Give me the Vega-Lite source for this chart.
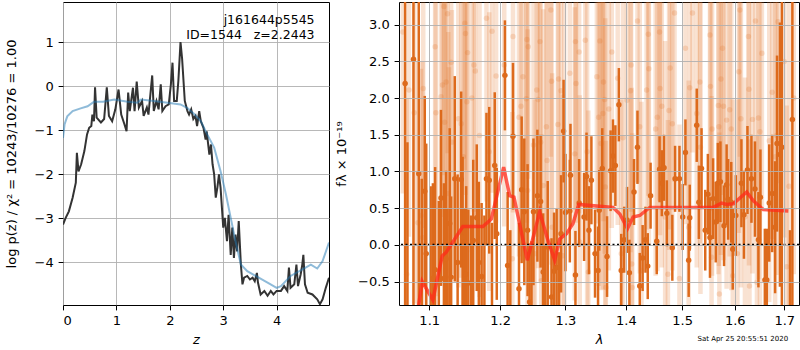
{
  "$schema": "https://vega.github.io/schema/vega-lite/v6.json",
  "padding": {"left": 4, "top": 1, "right": 0, "bottom": 0},
  "bounds": "flush",
  "spacing": 70,
  "config": {
    "font": "DejaVu Sans",
    "view": {"stroke": "black", "strokeWidth": 1},
    "axis": {
      "labelFontSize": 13, "titleFontSize": 13, "labelColor": "black", "titleColor": "black",
      "tickColor": "black", "tickSize": 4.9, "labelPadding": 4.9, "domain": false,
      "gridColor": "#b0b0b0", "gridWidth": 0.9, "titleFontWeight": "normal"
    }
  },
  "datasets": {
    "pz": [
      {"z":0,"p":-3.14},{"z":0.05,"p":-2.99},{"z":0.11,"p":-2.84},{"z":0.18,"p":-2.53},{"z":0.24,"p":-2.19},{"z":0.26,"p":-1.51},{"z":0.29,"p":-1.93},{"z":0.34,"p":-1.77},{"z":0.40,"p":-1.47},{"z":0.45,"p":-1.09},{"z":0.49,"p":-0.94},{"z":0.53,"p":-0.90},{"z":0.55,"p":-0.64},{"z":0.58,"p":-0.79},{"z":0.60,"p":-0.02},{"z":0.63,"p":-0.71},{"z":0.71,"p":-0.82},{"z":0.77,"p":-0.74},{"z":0.82,"p":-0.02},{"z":0.86,"p":-0.67},{"z":0.92,"p":-0.79},{"z":0.98,"p":-0.52},{"z":1.04,"p":-0.07},{"z":1.09,"p":-0.64},{"z":1.15,"p":-0.86},{"z":1.19,"p":-1.02},{"z":1.22,"p":-0.14},{"z":1.25,"p":-0.56},{"z":1.31,"p":-0.03},{"z":1.34,"p":-0.56},{"z":1.38,"p":0.11},{"z":1.42,"p":-0.48},{"z":1.48,"p":-0.33},{"z":1.51,"p":-0.67},{"z":1.57,"p":-0.48},{"z":1.60,"p":-0.64},{"z":1.67,"p":0.25},{"z":1.70,"p":-0.56},{"z":1.75,"p":-0.33},{"z":1.79,"p":-0.52},{"z":1.83,"p":0.05},{"z":1.86,"p":-0.56},{"z":1.92,"p":-0.45},{"z":1.98,"p":-0.41},{"z":2.02,"p":0.05},{"z":2.05,"p":0.54},{"z":2.08,"p":-0.33},{"z":2.13,"p":-0.33},{"z":2.16,"p":0.13},{"z":2.20,"p":1.01},{"z":2.23,"p":0.63},{"z":2.28,"p":-0.33},{"z":2.33,"p":-0.56},{"z":2.36,"p":-0.64},{"z":2.40,"p":-0.52},{"z":2.44,"p":-0.74},{"z":2.48,"p":-0.67},{"z":2.51,"p":-0.90},{"z":2.55,"p":-0.56},{"z":2.58,"p":-0.79},{"z":2.63,"p":-0.94},{"z":2.67,"p":-1.21},{"z":2.69,"p":-1.02},{"z":2.74,"p":-1.55},{"z":2.77,"p":-1.32},{"z":2.80,"p":-1.77},{"z":2.83,"p":-2.00},{"z":2.86,"p":-2.53},{"z":2.89,"p":-2.30},{"z":2.92,"p":-2.00},{"z":2.95,"p":-2.30},{"z":2.98,"p":-2.84},{"z":3.00,"p":-3.21},{"z":3.03,"p":-2.99},{"z":3.07,"p":-3.52},{"z":3.10,"p":-2.92},{"z":3.12,"p":-3.37},{"z":3.14,"p":-3.83},{"z":3.17,"p":-3.21},{"z":3.20,"p":-3.90},{"z":3.23,"p":-3.37},{"z":3.26,"p":-3.75},{"z":3.29,"p":-3.06},{"z":3.33,"p":-4.05},{"z":3.36,"p":-4.50},{"z":3.39,"p":-4.35},{"z":3.45,"p":-4.31},{"z":3.50,"p":-4.39},{"z":3.55,"p":-4.35},{"z":3.59,"p":-4.43},{"z":3.63,"p":-4.24},{"z":3.65,"p":-4.46},{"z":3.70,"p":-4.73},{"z":3.77,"p":-4.65},{"z":3.83,"p":-4.76},{"z":3.89,"p":-4.65},{"z":3.94,"p":-4.73},{"z":4.00,"p":-4.65},{"z":4.08,"p":-4.65},{"z":4.14,"p":-4.54},{"z":4.20,"p":-4.65},{"z":4.23,"p":-4.12},{"z":4.26,"p":-4.58},{"z":4.33,"p":-4.50},{"z":4.37,"p":-4.05},{"z":4.40,"p":-4.54},{"z":4.45,"p":-4.27},{"z":4.48,"p":-4.05},{"z":4.50,"p":-3.83},{"z":4.53,"p":-4.50},{"z":4.58,"p":-4.69},{"z":4.67,"p":-4.73},{"z":4.76,"p":-4.84},{"z":4.81,"p":-4.95},{"z":4.86,"p":-4.84},{"z":4.92,"p":-4.58},{"z":4.98,"p":-4.35}
    ],
    "pzs": [
      {"z":0,"p":-1.17},{"z":0.03,"p":-0.86},{"z":0.08,"p":-0.68},{"z":0.18,"p":-0.56},{"z":0.33,"p":-0.50},{"z":0.46,"p":-0.45},{"z":0.58,"p":-0.35},{"z":0.75,"p":-0.35},{"z":0.96,"p":-0.30},{"z":1.21,"p":-0.35},{"z":1.39,"p":-0.37},{"z":1.46,"p":-0.30},{"z":1.70,"p":-0.33},{"z":1.96,"p":-0.37},{"z":2.20,"p":-0.41},{"z":2.33,"p":-0.49},{"z":2.45,"p":-0.62},{"z":2.58,"p":-0.79},{"z":2.70,"p":-1.09},{"z":2.83,"p":-1.39},{"z":2.95,"p":-1.93},{"z":3.05,"p":-2.45},{"z":3.14,"p":-2.99},{"z":3.23,"p":-3.52},{"z":3.33,"p":-4.05},{"z":3.45,"p":-4.20},{"z":3.64,"p":-4.33},{"z":3.83,"p":-4.46},{"z":4.00,"p":-4.58},{"z":4.08,"p":-4.54},{"z":4.26,"p":-4.31},{"z":4.45,"p":-4.18},{"z":4.64,"p":-4.05},{"z":4.76,"p":-4.14},{"z":4.86,"p":-3.97},{"z":4.98,"p":-3.55}
    ],
    "dark": [
      {"lam":1.068,"f":2.20,"e":3.5},{"lam":1.071,"f":-1.2,"e":2.6},{"lam":1.079,"f":2.53,"e":3.5},{"lam":1.086,"f":0.97,"e":3.0},{"lam":1.090,"f":-1.3,"e":2.2},{"lam":1.094,"f":0.73,"e":1.3},{"lam":1.096,"f":-0.12,"e":1.5},{"lam":1.102,"f":-1.1,"e":1.9},{"lam":1.105,"f":-0.46,"e":1.3},{"lam":1.108,"f":-0.34,"e":1.4},{"lam":1.113,"f":-1.0,"e":1.6},{"lam":1.116,"f":0.64,"e":1.2},{"lam":1.120,"f":-0.46,"e":1.3},{"lam":1.123,"f":-0.19,"e":1.2},{"lam":1.125,"f":-0.9,"e":1.4},{"lam":1.128,"f":0.29,"e":1.3},{"lam":1.130,"f":-0.44,"e":1.1},{"lam":1.135,"f":0.90,"e":1.4},{"lam":1.139,"f":-0.24,"e":1.2},{"lam":1.144,"f":0.89,"e":1.2},{"lam":1.146,"f":0.10,"e":1.1},{"lam":1.148,"f":-1.0,"e":1.5},{"lam":1.151,"f":-0.40,"e":1.2},{"lam":1.154,"f":-0.52,"e":1.0},{"lam":1.158,"f":-0.9,"e":1.3},{"lam":1.161,"f":0.06,"e":1.1},{"lam":1.166,"f":0.37,"e":1.0},{"lam":1.169,"f":-0.24,"e":1.1},{"lam":1.173,"f":-0.43,"e":1.0},{"lam":1.177,"f":-1.0,"e":1.4},{"lam":1.180,"f":0.90,"e":0.9},{"lam":1.184,"f":0.88,"e":1.0},{"lam":1.188,"f":-0.9,"e":1.2},{"lam":1.192,"f":1.08,"e":1.0},{"lam":1.195,"f":0.15,"e":0.9},
      {"lam":1.207,"f":2.31,"e":0.75},{"lam":1.211,"f":-0.28,"e":1.0},{"lam":1.215,"f":-1.0,"e":1.2},{"lam":1.219,"f":1.48,"e":1.0},{"lam":1.228,"f":-0.60,"e":0.9},{"lam":1.232,"f":0.75,"e":1.0},{"lam":1.236,"f":0.45,"e":1.0},{"lam":1.241,"f":0.20,"e":0.9},{"lam":1.244,"f":-0.78,"e":0.8},{"lam":1.247,"f":-0.95,"e":1.0},{"lam":1.250,"f":0.45,"e":1.0},{"lam":1.256,"f":0.67,"e":0.9},{"lam":1.261,"f":0.59,"e":0.9},{"lam":1.265,"f":-0.37,"e":0.8},{"lam":1.268,"f":-0.9,"e":0.9},{"lam":1.272,"f":-0.03,"e":0.9},{"lam":1.278,"f":-0.71,"e":0.8},{"lam":1.282,"f":-0.36,"e":0.8},{"lam":1.286,"f":-0.31,"e":0.8},{"lam":1.290,"f":-0.9,"e":0.8},{"lam":1.293,"f":0.15,"e":0.8},{"lam":1.297,"f":1.55,"e":0.7},{"lam":1.300,"f":0.44,"e":0.8},{"lam":1.307,"f":0.46,"e":0.7},{"lam":1.308,"f":0.95,"e":0.7},{"lam":1.316,"f":-0.41,"e":0.6},{"lam":1.322,"f":0.57,"e":0.6},{"lam":1.330,"f":0.38,"e":0.6},{"lam":1.334,"f":0.93,"e":0.6},{"lam":1.338,"f":0.20,"e":0.6},{"lam":1.342,"f":0.88,"e":0.6},{"lam":1.348,"f":-0.12,"e":0.6},{"lam":1.353,"f":-0.35,"e":0.6},
      {"lam":1.355,"f":0.47,"e":0.55},{"lam":1.360,"f":1.04,"e":0.55},{"lam":1.368,"f":-0.16,"e":0.55},{"lam":1.374,"f":1.01,"e":0.55},{"lam":1.378,"f":1.21,"e":0.5},{"lam":1.382,"f":1.08,"e":0.55},{"lam":1.388,"f":1.91,"e":0.5},{"lam":1.392,"f":-0.35,"e":0.5},{"lam":1.397,"f":0.07,"e":0.45},{"lam":1.402,"f":0.34,"e":0.45},{"lam":1.406,"f":-0.38,"e":0.45},{"lam":1.414,"f":0.72,"e":0.45},{"lam":1.420,"f":1.33,"e":0.5},{"lam":1.424,"f":-0.56,"e":0.45},{"lam":1.429,"f":-0.18,"e":0.45},{"lam":1.434,"f":0.07,"e":0.45},{"lam":1.438,"f":-0.29,"e":0.45},{"lam":1.443,"f":0.67,"e":0.45},{"lam":1.454,"f":0.05,"e":0.45},{"lam":1.459,"f":1.03,"e":0.45},{"lam":1.463,"f":0.84,"e":0.45},{"lam":1.467,"f":1.05,"e":0.45},{"lam":1.472,"f":0.43,"e":0.45},{"lam":1.482,"f":-0.04,"e":0.45},{"lam":1.487,"f":0.90,"e":0.45},{"lam":1.495,"f":0.90,"e":0.45},{"lam":1.501,"f":0.38,"e":0.45},{"lam":1.506,"f":1.26,"e":0.45},{"lam":1.512,"f":-0.21,"e":0.5},{"lam":1.514,"f":0.37,"e":0.45},{"lam":1.527,"f":1.63,"e":0.5},{"lam":1.531,"f":0.58,"e":0.5},
      {"lam":1.536,"f":1.04,"e":0.55},{"lam":1.543,"f":0.20,"e":0.55},{"lam":1.548,"f":0.69,"e":0.55},{"lam":1.552,"f":0.10,"e":0.55},{"lam":1.558,"f":0.63,"e":0.55},{"lam":1.563,"f":0.31,"e":0.55},{"lam":1.567,"f":0.84,"e":0.55},{"lam":1.572,"f":0.86,"e":0.55},{"lam":1.579,"f":0.26,"e":0.55},{"lam":1.584,"f":0.82,"e":0.55},{"lam":1.587,"f":0.62,"e":0.55},{"lam":1.593,"f":0.58,"e":0.55},{"lam":1.596,"f":-0.06,"e":0.55},{"lam":1.602,"f":0.40,"e":0.55},{"lam":1.613,"f":0.84,"e":0.6},{"lam":1.618,"f":0.41,"e":0.6},{"lam":1.625,"f":1.02,"e":0.6},{"lam":1.633,"f":0.90,"e":0.6},{"lam":1.640,"f":0.76,"e":0.65},{"lam":1.647,"f":0.07,"e":0.65},{"lam":1.651,"f":0.65,"e":0.65},{"lam":1.660,"f":-0.48,"e":0.7},{"lam":1.664,"f":-0.48,"e":0.7},{"lam":1.669,"f":0.57,"e":0.8},{"lam":1.675,"f":0.70,"e":0.8},{"lam":1.681,"f":0.24,"e":0.9},{"lam":1.685,"f":1.38,"e":1.2},{"lam":1.691,"f":1.23,"e":1.8},{"lam":1.695,"f":1.33,"e":2.5},{"lam":1.712,"f":-0.9,"e":1.1},{"lam":1.717,"f":1.71,"e":3.0}
    ],
    "light": [
      {"lam":1.065,"f":2.9,"e":2.2},{"lam":1.070,"f":-0.4,"e":2.4},{"lam":1.073,"f":2.11,"e":2.0},{"lam":1.080,"f":1.8,"e":2.6},{"lam":1.085,"f":0.3,"e":2.2},{"lam":1.089,"f":0.40,"e":2.0},{"lam":1.091,"f":0.10,"e":2.4},{"lam":1.092,"f":2.13,"e":1.9},{"lam":1.108,"f":2.70,"e":2.2},{"lam":1.109,"f":1.80,"e":2.5},{"lam":1.116,"f":2.02,"e":2.0},{"lam":1.118,"f":2.18,"e":1.8},{"lam":1.120,"f":3.25,"e":2.3},{"lam":1.121,"f":1.67,"e":2.1},{"lam":1.123,"f":2.22,"e":2.6},{"lam":1.125,"f":3.15,"e":1.9},{"lam":1.126,"f":0.70,"e":2.2},{"lam":1.127,"f":0.42,"e":2.0},{"lam":1.130,"f":2.49,"e":2.4},{"lam":1.131,"f":1.40,"e":1.8},{"lam":1.140,"f":1.72,"e":2.3},{"lam":1.144,"f":1.65,"e":2.1},{"lam":1.147,"f":1.20,"e":2.5},{"lam":1.149,"f":3.02,"e":2.0},{"lam":1.150,"f":2.88,"e":2.2},{"lam":1.152,"f":1.95,"e":1.9},{"lam":1.153,"f":2.62,"e":2.4},{"lam":1.159,"f":2.00,"e":2.1},{"lam":1.162,"f":2.45,"e":2.0},{"lam":1.164,"f":2.37,"e":2.3},{"lam":1.170,"f":1.49,"e":2.2},{"lam":1.180,"f":3.09,"e":2.5},{"lam":1.184,"f":1.27,"e":1.9},{"lam":1.188,"f":2.91,"e":2.2},{"lam":1.194,"f":2.30,"e":2.0},
      {"lam":1.206,"f":2.45,"e":2.2},{"lam":1.218,"f":-0.19,"e":2.0},{"lam":1.219,"f":2.84,"e":2.4},{"lam":1.228,"f":1.74,"e":1.9},{"lam":1.231,"f":1.89,"e":2.1},{"lam":1.234,"f":2.29,"e":2.3},{"lam":1.239,"f":1.99,"e":2.0},{"lam":1.240,"f":2.80,"e":2.5},{"lam":1.241,"f":0.74,"e":2.2},{"lam":1.242,"f":2.70,"e":1.8},{"lam":1.250,"f":1.36,"e":2.4},{"lam":1.252,"f":-0.12,"e":2.1},{"lam":1.255,"f":2.11,"e":2.0},{"lam":1.257,"f":1.98,"e":2.3},{"lam":1.260,"f":2.77,"e":2.2},{"lam":1.261,"f":1.40,"e":1.9},{"lam":1.262,"f":-0.49,"e":2.0},{"lam":1.265,"f":0.81,"e":2.4},{"lam":1.270,"f":1.61,"e":2.1},{"lam":1.271,"f":1.15,"e":2.2},{"lam":1.277,"f":3.20,"e":2.0},{"lam":1.278,"f":2.23,"e":2.5},{"lam":1.279,"f":0.24,"e":2.1},{"lam":1.288,"f":1.64,"e":1.9},{"lam":1.289,"f":2.26,"e":2.3},{"lam":1.293,"f":2.10,"e":2.0},{"lam":1.296,"f":-0.15,"e":2.2},{"lam":1.298,"f":0.97,"e":2.4},{"lam":1.307,"f":2.34,"e":2.1},{"lam":1.315,"f":1.24,"e":2.0},{"lam":1.316,"f":2.77,"e":2.3},{"lam":1.317,"f":2.20,"e":1.9},{"lam":1.322,"f":2.63,"e":2.2},{"lam":1.323,"f":0.04,"e":2.0},{"lam":1.332,"f":2.79,"e":2.4},{"lam":1.335,"f":1.27,"e":2.1},{"lam":1.337,"f":-0.37,"e":2.2},{"lam":1.351,"f":2.29,"e":2.0},{"lam":1.354,"f":1.74,"e":2.3},
      {"lam":1.356,"f":2.78,"e":2.2},{"lam":1.358,"f":1.38,"e":2.0},{"lam":1.361,"f":1.79,"e":2.4},{"lam":1.362,"f":2.22,"e":1.9},{"lam":1.364,"f":1.98,"e":2.1},{"lam":1.365,"f":0.79,"e":2.3},{"lam":1.366,"f":-0.58,"e":2.0},{"lam":1.371,"f":1.85,"e":2.2},{"lam":1.376,"f":2.63,"e":2.4},{"lam":1.386,"f":2.27,"e":2.0},{"lam":1.392,"f":-0.12,"e":2.1},{"lam":1.395,"f":1.46,"e":2.3},{"lam":1.402,"f":1.97,"e":1.9},{"lam":1.408,"f":2.10,"e":2.2},{"lam":1.409,"f":2.45,"e":2.0},{"lam":1.410,"f":-0.26,"e":2.4},{"lam":1.411,"f":-0.58,"e":2.1},{"lam":1.420,"f":3.05,"e":2.2},{"lam":1.424,"f":1.61,"e":2.0},{"lam":1.427,"f":-0.35,"e":2.3},{"lam":1.436,"f":2.11,"e":1.9},{"lam":1.439,"f":2.87,"e":2.2},{"lam":1.440,"f":2.40,"e":2.4},{"lam":1.452,"f":1.58,"e":2.0},{"lam":1.455,"f":1.74,"e":2.1},{"lam":1.459,"f":2.90,"e":2.3},{"lam":1.460,"f":2.13,"e":2.0},{"lam":1.463,"f":1.89,"e":2.2},{"lam":1.469,"f":0.38,"e":2.4},{"lam":1.474,"f":-0.40,"e":2.1},{"lam":1.476,"f":1.83,"e":1.9},{"lam":1.478,"f":2.41,"e":2.2},{"lam":1.482,"f":1.65,"e":2.0},{"lam":1.486,"f":3.16,"e":2.3},{"lam":1.495,"f":-0.46,"e":2.1},{"lam":1.506,"f":2.68,"e":2.4},{"lam":1.512,"f":0.24,"e":2.0},{"lam":1.514,"f":2.14,"e":2.2},{"lam":1.519,"f":3.16,"e":1.9},{"lam":1.527,"f":1.79,"e":2.1},
      {"lam":1.533,"f":2.22,"e":2.2},{"lam":1.534,"f":1.33,"e":2.0},{"lam":1.552,"f":2.86,"e":2.4},{"lam":1.553,"f":2.16,"e":2.1},{"lam":1.555,"f":-0.17,"e":2.2},{"lam":1.556,"f":1.58,"e":2.0},{"lam":1.568,"f":1.90,"e":2.3},{"lam":1.569,"f":1.61,"e":1.9},{"lam":1.570,"f":-0.67,"e":2.2},{"lam":1.573,"f":2.26,"e":2.4},{"lam":1.576,"f":2.68,"e":2.0},{"lam":1.578,"f":1.89,"e":2.1},{"lam":1.584,"f":1.70,"e":2.3},{"lam":1.590,"f":1.84,"e":2.0},{"lam":1.593,"f":1.58,"e":2.2},{"lam":1.596,"f":-0.42,"e":2.4},{"lam":1.605,"f":-0.12,"e":2.1},{"lam":1.608,"f":2.36,"e":2.2},{"lam":1.610,"f":3.20,"e":2.0},{"lam":1.612,"f":1.72,"e":2.3},{"lam":1.620,"f":0.38,"e":1.9},{"lam":1.627,"f":2.84,"e":2.2},{"lam":1.628,"f":2.12,"e":2.4},{"lam":1.629,"f":-0.56,"e":2.0},{"lam":1.635,"f":1.71,"e":2.1},{"lam":1.641,"f":3.05,"e":2.3},{"lam":1.644,"f":-0.51,"e":2.0},{"lam":1.647,"f":1.73,"e":2.2},{"lam":1.650,"f":1.54,"e":2.4},{"lam":1.654,"f":2.61,"e":2.1},{"lam":1.669,"f":1.42,"e":2.2},{"lam":1.675,"f":2.08,"e":2.0},{"lam":1.681,"f":1.20,"e":2.3},{"lam":1.684,"f":1.49,"e":1.9},{"lam":1.687,"f":3.04,"e":2.2},{"lam":1.700,"f":2.5,"e":2.4},{"lam":1.705,"f":-0.3,"e":2.2},{"lam":1.710,"f":0.8,"e":2.6},{"lam":1.720,"f":2.0,"e":2.4}
    ],
    "model": [
      {"lam":1.084,"f":-0.95},{"lam":1.0906,"f":-0.50},{"lam":1.1049,"f":-0.75},{"lam":1.1177,"f":-0.15},{"lam":1.1232,"f":-0.10},{"lam":1.1463,"f":0.25},{"lam":1.1748,"f":0.25},{"lam":1.187,"f":0.35},{"lam":1.2051,"f":1.06},{"lam":1.214,"f":0.67},{"lam":1.2204,"f":0.65},{"lam":1.2406,"f":-0.21},{"lam":1.2595,"f":0.45},{"lam":1.2724,"f":0.06},{"lam":1.283,"f":-0.21},{"lam":1.2909,"f":0.08},{"lam":1.3015,"f":0.15},{"lam":1.3121,"f":0.29},{"lam":1.3213,"f":0.55},{"lam":1.3781,"f":0.51},{"lam":1.3896,"f":0.42},{"lam":1.4027,"f":0.22},{"lam":1.4124,"f":0.38},{"lam":1.424,"f":0.40},{"lam":1.4416,"f":0.51},{"lam":1.5582,"f":0.51},{"lam":1.5744,"f":0.57},{"lam":1.5841,"f":0.55},{"lam":1.5971,"f":0.56},{"lam":1.6235,"f":0.72},{"lam":1.6368,"f":0.60},{"lam":1.6569,"f":0.48},{"lam":1.7085,"f":0.46}
    ]
  },
  "hconcat": [
    {
      "width": 266,
      "height": 303,
      "layer": [
        {
          "data": {"name": "pz"},
          "mark": {"type": "line", "color": "#333333", "strokeWidth": 2, "clip": true},
          "encoding": {
            "x": {"field": "z", "type": "quantitative", "title": "z", "scale": {"domain": [0, 4.98], "nice": false, "zero": false},
                  "axis": {"values": [0, 1, 2, 3, 4], "format": "d", "titleFontStyle": "italic", "titlePadding": 6}},
            "y": {"field": "p", "type": "quantitative", "title": "log p(z) / χ² = 10243/10276 = 1.00", "scale": {"domain": [-4.97, 1.92], "nice": false, "zero": false},
                  "axis": {"values": [-4, -3, -2, -1, 0, 1], "format": "d", "titlePadding": 16}}
          }
        },
        {
          "data": {"name": "pzs"},
          "mark": {"type": "line", "color": "#1f77b4", "opacity": 0.5, "strokeWidth": 2, "clip": true},
          "encoding": {
            "x": {"field": "z", "type": "quantitative", "title": "z"},
            "y": {"field": "p", "type": "quantitative", "title": "log p(z) / χ² = 10243/10276 = 1.00"}
          }
        },
        {
          "data": {"values": [{}]},
          "mark": {"type": "text", "align": "right", "baseline": "alphabetic", "fontSize": 12.5, "color": "black"},
          "encoding": {"x": {"datum": 4.71}, "y": {"datum": 1.42}, "text": {"value": "j161644p5545"}}
        },
        {
          "data": {"values": [{}]},
          "mark": {"type": "text", "align": "right", "baseline": "alphabetic", "fontSize": 12.5, "color": "black"},
          "encoding": {"x": {"datum": 4.71}, "y": {"datum": 1.09}, "text": {"value": "ID=1544\u00a0\u00a0\u00a0z=2.2443"}}
        }
      ]
    },
    {
      "width": 400,
      "height": 303,
      "layer": [
        {
          "data": {"name": "light"},
          "mark": {"type": "errorbar", "color": "#e07020", "opacity": 0.2, "thickness": 4.5, "clip": true},
          "encoding": {
            "x": {"field": "lam", "type": "quantitative", "title": "λ", "scale": {"type": "log", "domain": [1.06, 1.731], "nice": false},
                  "axis": {"values": [1.1, 1.2, 1.3, 1.4, 1.5, 1.6, 1.7], "format": ".1f", "titleFontStyle": "italic", "titlePadding": 6, "zindex": 1}},
            "y": {"field": "f", "type": "quantitative", "title": "fλ × 10⁻¹⁹", "scale": {"domain": [-0.82, 3.31], "nice": false, "zero": false},
                  "axis": {"values": [-0.5, 0, 0.5, 1, 1.5, 2, 2.5, 3], "format": ".1f", "titleX": -51, "zindex": 1}},
            "yError": {"field": "e"}
          }
        },
        {
          "data": {"name": "light"},
          "mark": {"type": "circle", "size": 30, "color": "#e07020", "opacity": 0.2, "clip": true},
          "encoding": {
            "x": {"field": "lam", "type": "quantitative", "title": "λ"},
            "y": {"field": "f", "type": "quantitative", "title": "fλ × 10⁻¹⁹"}
          }
        },
        {
          "data": {"name": "dark"},
          "mark": {"type": "errorbar", "color": "#dd6a1c", "thickness": 2.5, "clip": true},
          "encoding": {
            "x": {"field": "lam", "type": "quantitative", "title": "λ"},
            "y": {"field": "f", "type": "quantitative", "title": "fλ × 10⁻¹⁹"},
            "yError": {"field": "e"}
          }
        },
        {
          "data": {"name": "dark"},
          "mark": {"type": "circle", "size": 30, "color": "#dd6a1c", "opacity": 1, "clip": true},
          "encoding": {
            "x": {"field": "lam", "type": "quantitative", "title": "λ"},
            "y": {"field": "f", "type": "quantitative", "title": "fλ × 10⁻¹⁹"}
          }
        },
        {
          "data": {"values": [{}]},
          "mark": {"type": "rule", "color": "black", "strokeWidth": 2, "strokeDash": [2, 2.5]},
          "encoding": {"y": {"datum": 0}}
        },
        {
          "data": {"name": "model"},
          "mark": {"type": "line", "color": "#ff2a1a", "opacity": 0.75, "strokeWidth": 3.5, "clip": true},
          "encoding": {
            "x": {"field": "lam", "type": "quantitative", "title": "λ"},
            "y": {"field": "f", "type": "quantitative", "title": "fλ × 10⁻¹⁹"}
          }
        },
        {
          "data": {"values": [{}]},
          "mark": {"type": "text", "align": "right", "baseline": "alphabetic", "fontSize": 7, "color": "black"},
          "encoding": {"x": {"datum": 1.708}, "y": {"datum": -1.31}, "text": {"value": "Sat Apr 25 20:55:51 2020"}}
        }
      ]
    }
  ]
}
